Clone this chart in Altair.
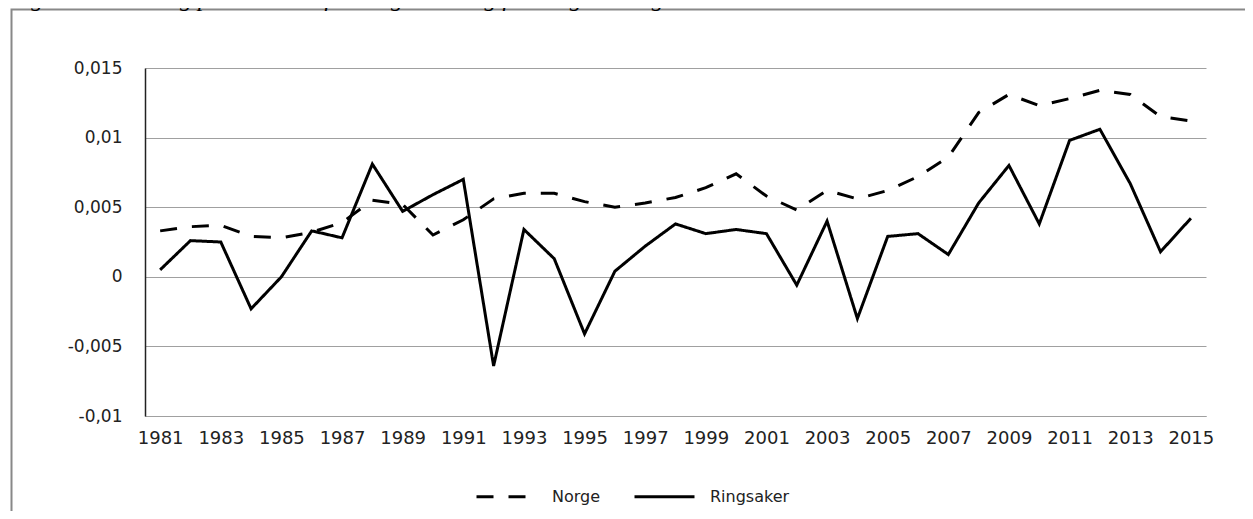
import altair as alt
import pandas as pd

years = list(range(1981, 2016))

norge = [0.0033, 0.0036, 0.0037, 0.0029, 0.0028, 0.0032, 0.0039, 0.0055, 0.0052, 0.0030,
         0.0041, 0.0056, 0.0060, 0.0060, 0.0054, 0.0050, 0.0053, 0.0057, 0.0064, 0.0074,
         0.0058, 0.0048, 0.0062, 0.0056, 0.0062, 0.0072, 0.0086, 0.0118, 0.0131, 0.0123,
         0.0128, 0.0134, 0.0131, 0.0115, 0.0112]

ringsaker = [0.0005, 0.0026, 0.0025, -0.0023, 0.0000, 0.0033, 0.0028, 0.0081, 0.0047, 0.0059,
             0.0070, -0.0064, 0.0034, 0.0013, -0.0041, 0.0004, 0.0022, 0.0038, 0.0031, 0.0034,
             0.0031, -0.0006, 0.0040, -0.0030, 0.0029, 0.0031, 0.0016, 0.0053, 0.0080, 0.0038,
             0.0098, 0.0106, 0.0067, 0.0018, 0.0042]

series_names = ["Norge", "Ringsaker"]
y_ticks = [-0.01, -0.005, 0, 0.005, 0.01, 0.015]
x_label_years = [y for y in years if y % 2 == 1]
title_text = "Figur 1.3.1.2 Årlig prosentvis befolkningsutvikling for Ringsaker og landet 1981-2015"

df = pd.concat([
    pd.DataFrame({"year": years, "value": norge, "series": "Norge"}),
    pd.DataFrame({"year": years, "value": ringsaker, "series": "Ringsaker"}),
])

FONT = "DejaVu Sans"

lines = alt.Chart(df).mark_line(color="black", strokeWidth=3, strokeJoin="miter").encode(
    x=alt.X("year:O",
            axis=alt.Axis(values=x_label_years, title=None, labelAngle=0, ticks=False, tickSize=0,
                          labelPadding=13, labelFont=FONT, labelFontSize=18, labelColor="#222",
                          domainColor="#a0a0a0", domainWidth=1, grid=False, labelOverlap=False)),
    y=alt.Y("value:Q",
            scale=alt.Scale(domain=[-0.01, 0.015], nice=False, zero=False),
            axis=alt.Axis(values=y_ticks, title=None, ticks=False, tickSize=0, labelPadding=23,
                          labelFont=FONT, labelFontSize=17, labelColor="#222",
                          domainColor="#222", domainWidth=1.5,
                          grid=True, gridColor="#a0a0a0", gridWidth=1,
                          labelExpr="datum.value == 0 ? '0' : replace(toString(round(datum.value*1000)/1000), '.', ',')")),
    strokeDash=alt.StrokeDash("series:N",
                              scale=alt.Scale(domain=series_names, range=[[17, 15], [1, 0]]),
                              legend=alt.Legend(title=None, orient="none", direction="horizontal",
                                                legendX=330, legendY=397,
                                                symbolType="stroke", symbolSize=3600,
                                                symbolStrokeWidth=3, symbolStrokeColor="black",
                                                labelFont=FONT, labelFontSize=16, labelColor="#222",
                                                labelOffset=14, columnPadding=27)),
)

border = alt.Chart(pd.DataFrame({"a": [0]})).mark_rect(
    fill="transparent", stroke="#888888", strokeWidth=2
).encode(x=alt.value(-133.5), x2=alt.value(1300), y=alt.value(-58.5), y2=alt.value(1000))

title = alt.Chart(pd.DataFrame({"t": [title_text]})).mark_text(
    font="Liberation Serif", fontStyle="italic", fontSize=24, color="black",
    align="left", baseline="alphabetic"
).encode(text="t:N", x=alt.value(-135), y=alt.value(-62))

chart = alt.layer(border, lines, title).properties(
    width=1061, height=348,
    autosize=alt.AutoSizeParams(type="none"),
    padding={"left": 137, "top": 60, "right": 39, "bottom": 95},
).configure_view(stroke=None)

chart.save("out.html", embed_options={"renderer": "svg", "actions": False})
